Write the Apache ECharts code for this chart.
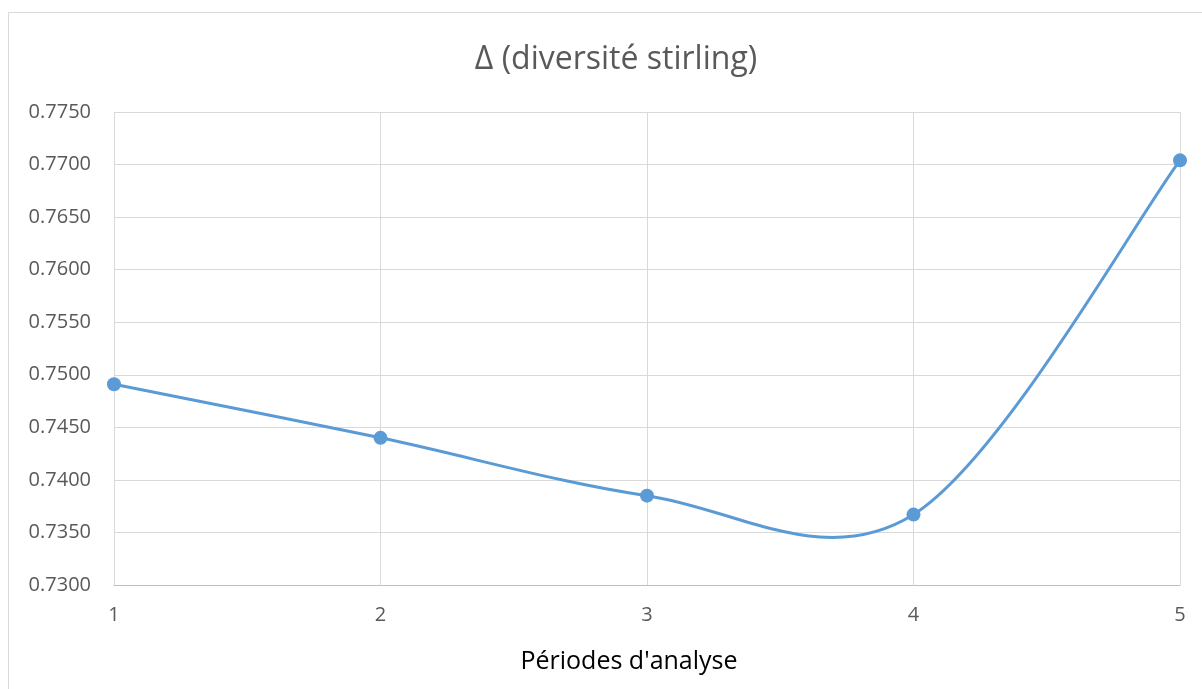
<!DOCTYPE html>
<html>
<head>
<meta charset="utf-8">
<script src="https://cdn.jsdelivr.net/npm/echarts@6/dist/echarts.min.js"></script>
<style>
  html, body { margin: 0; padding: 0; background: #ffffff; }
  #chart { width: 1202px; height: 689px; }
</style>
</head>
<body>
<div id="chart"></div>
<script>
// Analysis periods and Stirling diversity index per period
const periods = ['1', '2', '3', '4', '5'];
const diversity = [0.7491, 0.7440, 0.7385, 0.7367, 0.7704];
const yTicks = { min: 0.7300, max: 0.7750, step: 0.0050 };

const textColor = '#595959';
const gridColor = '#d9d9d9';
const lineColor = '#5b9bd5';
const font = '"Open Sans", "Liberation Sans", sans-serif';

// Cardinal (Catmull-Rom) spline through the projected points, as a cubic bezier path
function splinePath(pts) {
  let d = 'M' + pts[0][0] + ' ' + pts[0][1];
  for (let i = 0; i < pts.length - 1; i++) {
    const p0 = pts[Math.max(i - 1, 0)];
    const p1 = pts[i];
    const p2 = pts[i + 1];
    const p3 = pts[Math.min(i + 2, pts.length - 1)];
    const c1 = [p1[0] + (p2[0] - p0[0]) / 6, p1[1] + (p2[1] - p0[1]) / 6];
    const c2 = [p2[0] - (p3[0] - p1[0]) / 6, p2[1] - (p3[1] - p1[1]) / 6];
    d += ' C' + c1[0] + ' ' + c1[1] + ' ' + c2[0] + ' ' + c2[1] + ' ' + p2[0] + ' ' + p2[1];
  }
  return d;
}

const chart = echarts.init(document.getElementById('chart'), null, { renderer: 'canvas' });

chart.setOption({
  backgroundColor: '#ffffff',
  animation: false,
  graphic: [{
    type: 'rect',
    shape: { x: 8.5, y: 12.5, width: 1200, height: 690 },
    style: { fill: 'none', stroke: '#d9d9d9', lineWidth: 1 },
    silent: true
  }],
  title: {
    text: 'Δ (diversité stirling)',
    left: 611,
    top: 39,
    textAlign: 'center',
    textStyle: { fontFamily: font, fontSize: 32, fontWeight: 'normal', color: textColor }
  },
  grid: { left: 114, right: 22, top: 112, bottom: 104, containLabel: false },
  xAxis: {
    type: 'category',
    data: periods,
    boundaryGap: false,
    name: "Périodes d'analyse",
    nameLocation: 'middle',
    nameGap: 64,
    nameTextStyle: { fontFamily: font, fontSize: 25, color: '#000000', padding: [0, 36, 0, 0] },
    axisLine: { show: true, lineStyle: { color: '#bfbfbf', width: 1 } },
    axisTick: { show: false },
    axisLabel: { fontFamily: font, fontSize: 20, color: textColor, margin: 20 },
    splitLine: { show: true, lineStyle: { color: gridColor, width: 1 } }
  },
  yAxis: {
    type: 'value',
    min: yTicks.min,
    max: yTicks.max,
    interval: yTicks.step,
    axisLine: { show: false },
    axisTick: { show: false },
    axisLabel: {
      fontFamily: font, fontSize: 20, color: textColor, margin: 23,
      formatter: v => v.toFixed(4)
    },
    splitLine: { show: true, lineStyle: { color: gridColor, width: 1 } }
  },
  series: [
    {
      // smoothed curve through all points
      type: 'custom',
      data: diversity.map((v, i) => [i, v]),
      clip: false,
      z: 2,
      renderItem: function (params, api) {
        if (params.dataIndex !== 0) return null;
        const pts = diversity.map((v, i) => api.coord([i, v]));
        return {
          type: 'path',
          shape: { pathData: splinePath(pts) },
          style: { fill: 'none', stroke: lineColor, lineWidth: 3 }
        };
      }
    },
    {
      // data point markers
      type: 'scatter',
      data: diversity.map((v, i) => [i, v]),
      symbol: 'circle',
      symbolSize: 14,
      itemStyle: { color: lineColor, opacity: 1 },
      clip: false,
      z: 3
    }
  ]
});
</script>
</body>
</html>
